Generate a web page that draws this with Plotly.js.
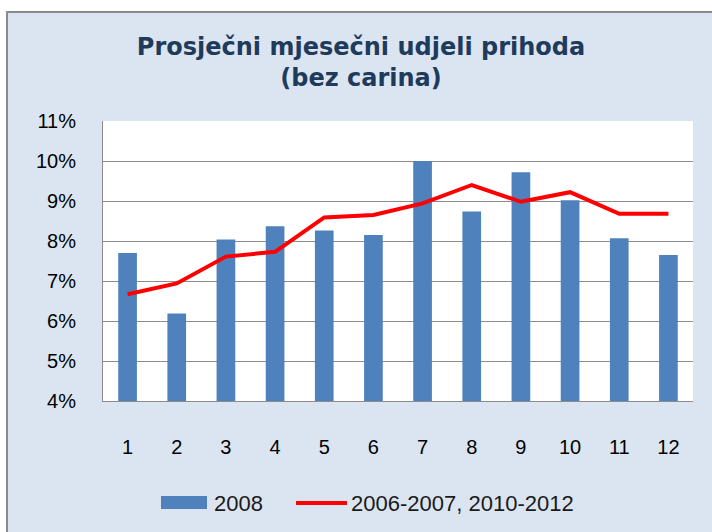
<!DOCTYPE html>
<html>
<head>
<meta charset="utf-8">
<script src="https://cdn.plot.ly/plotly-3.0.1.min.js"></script>
<style>
  html, body { margin: 0; padding: 0; background: #ffffff; width: 712px; height: 532px; overflow: hidden; }
  #frame { position: absolute; left: 6px; top: 11px; width: 706px; height: 521px;
           border-left: 2px solid #8a8a8a; border-top: 2px solid #8a8a8a; background: #dbe5f1; }
  #chart { width: 706px; height: 521px; }
</style>
</head>
<body>
<div id="frame"><div id="chart"></div></div>
<script>
const months = ['1','2','3','4','5','6','7','8','9','10','11','12'];
const share2008 = [7.70, 6.19, 8.04, 8.37, 8.26, 8.15, 10.00, 8.74, 9.72, 9.02, 8.07, 7.65];
const shareOther = [6.67, 6.94, 7.61, 7.73, 8.59, 8.65, 8.94, 9.40, 8.98, 9.22, 8.68, 8.68];
const seriesNames = ['2008', '2006-2007, 2010-2012'];
const titleText = 'Prosječni mjesečni udjeli prihoda<br>(bez carina)';

const BAR_COLOR = '#4f81bd', LINE_COLOR = '#ff0000';

// plot-area geometry (div pixels) used to place the custom legend in paper coordinates
const W = 706, H = 521, M = { l: 95, r: 21, t: 108, b: 133 };
const pw = W - M.l - M.r, ph = H - M.t - M.b;
const px = v => (v - 8 - M.l) / pw;          // page x -> paper x
const py = v => (H - M.b - (v - 13)) / ph;   // page y -> paper y

const traces = [
  { type: 'bar', x: months, y: share2008, name: seriesNames[0], showlegend: false,
    marker: { color: BAR_COLOR, line: { width: 0 } } },
  { type: 'scatter', mode: 'lines', x: months, y: shareOther, name: seriesNames[1], showlegend: false,
    line: { color: LINE_COLOR, width: 4 } }
];

const legendFont = { family: 'Liberation Sans, Arial, sans-serif', size: 22, color: '#1a1a1a' };

const layout = {
  width: W, height: H,
  paper_bgcolor: '#dbe5f1', plot_bgcolor: '#ffffff',
  margin: M,
  font: { family: 'Liberation Sans, Arial, sans-serif', size: 20, color: '#000000' },
  title: { text: titleText, x: 0.5, xanchor: 'center', yref: 'container', y: 0.92, yanchor: 'top',
           font: { family: 'DejaVu Sans, sans-serif', size: 24, color: '#1f3b5c', weight: 'bold' } },
  bargap: 0.62,
  showlegend: false,
  xaxis: { type: 'category', showgrid: false, showline: true, linecolor: '#8c8c8c', linewidth: 1,
           ticks: '', ticklabelstandoff: 28, tickfont: { size: 20 }, fixedrange: true },
  yaxis: { range: [4, 11], dtick: 1, tick0: 4, ticksuffix: '%', showgrid: true, gridcolor: '#8c8c8c',
           gridwidth: 1, showline: true, linecolor: '#8c8c8c', linewidth: 1, zeroline: false,
           ticks: '', ticklabelstandoff: 22, tickfont: { size: 20 }, fixedrange: true },
  shapes: [
    { type: 'rect', xref: 'paper', yref: 'paper', x0: px(161), x1: px(207), y0: py(509), y1: py(496),
      fillcolor: BAR_COLOR, line: { width: 0 } },
    { type: 'line', xref: 'paper', yref: 'paper', x0: px(296), x1: px(347), y0: py(503), y1: py(503),
      line: { color: LINE_COLOR, width: 4 } }
  ],
  annotations: [
    { xref: 'paper', yref: 'paper', x: px(212), y: py(503), xanchor: 'left', yanchor: 'middle',
      text: seriesNames[0], showarrow: false, font: legendFont },
    { xref: 'paper', yref: 'paper', x: px(349), y: py(503), xanchor: 'left', yanchor: 'middle',
      text: seriesNames[1], showarrow: false, font: legendFont }
  ]
};

Plotly.newPlot('chart', traces, layout, { displayModeBar: false, staticPlot: true });
</script>
</body>
</html>
